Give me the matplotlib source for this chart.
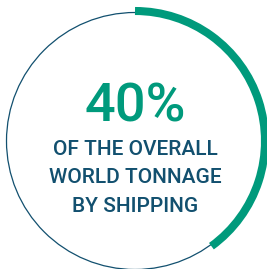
import matplotlib
matplotlib.use("Agg")
import matplotlib.pyplot as plt
from matplotlib.patches import Arc, Circle

# ── Data ──────────────────────────────────────────────────────────────────────
share_pct = 40
headline = f"{share_pct}%"
caption_lines = ["OF THE OVERALL", "WORLD TONNAGE", "BY SHIPPING"]

TEAL = "#009a7c"
NAVY = "#12506f"

W, H = 267, 269
fig = plt.figure(figsize=(W / 100, H / 100), dpi=100)
ax = fig.add_axes([0, 0, 1, 1])
ax.set_xlim(0, W)
ax.set_ylim(0, H)
ax.set_aspect("equal")
ax.axis("off")

cx, cy = 135, H - 141   # pixel space, y up
r = 128.5

# thin full ring
ax.add_patch(Circle((cx, cy), r, fill=False, edgecolor=NAVY, linewidth=0.9))

# thick progress arc, clockwise from 12 o'clock
sweep = 360 * share_pct / 100
ax.add_patch(Arc((cx, cy), 2 * (r + 1.5), 2 * (r + 1.5),
                 theta1=90 - sweep, theta2=90,
                 color=TEAL, linewidth=5.8, capstyle="butt"))

ax.text(cx, H - 122, headline, color=TEAL, fontsize=39,
        fontfamily="Roboto", fontweight="medium",
        ha="center", va="baseline")

baselines = [155, 183, 211.5]
for txt, y in zip(caption_lines, baselines):
    ax.text(cx, H - y, txt, color=NAVY, fontsize=15,
            fontfamily="Roboto", fontweight="medium",
            ha="center", va="baseline")

fig.savefig("out.png", dpi=100)
